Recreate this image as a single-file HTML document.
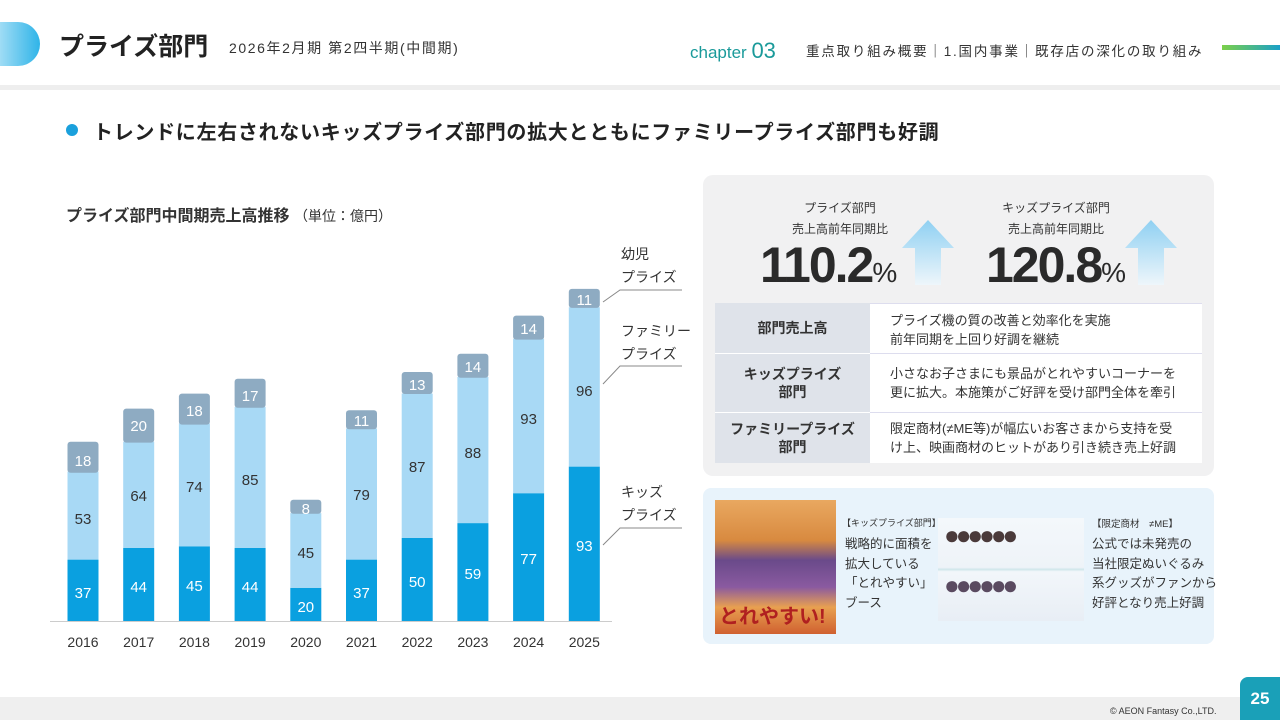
<!DOCTYPE html>
<html><head><meta charset="utf-8"><style>
*{margin:0;padding:0;box-sizing:border-box}
body{width:1280px;height:720px;position:relative;background:#fff;font-family:"Liberation Sans","Noto Sans CJK JP",sans-serif;color:#333;overflow:hidden}
.a{position:absolute;white-space:nowrap}
</style></head><body>
<div class="a" style="left:0;top:22px;width:40px;height:44px;border-radius:0 22px 22px 0;background:linear-gradient(90deg,#9fdcf5,#2fb4e8)"></div>
<div class="a" style="left:59px;top:27px;font-size:25px;font-weight:bold;color:#222">プライズ部門</div>
<div class="a" style="left:229px;top:38px;font-size:14px;color:#333;letter-spacing:1.6px">2026年2月期 第2四半期(中間期)</div>
<div class="a" style="left:690px;top:38px;font-size:17px;color:#1a9a9a">chapter <span style="font-size:22px">03</span></div>
<div class="a" style="left:806px;top:40px;font-size:13.5px;color:#333;letter-spacing:1.8px">重点取り組み概要｜1.国内事業｜既存店の深化の取り組み</div>
<div class="a" style="left:1222px;top:45px;width:58px;height:5px;background:linear-gradient(90deg,#7cd04a,#1aa0c8)"></div>
<div class="a" style="left:0;top:85px;width:1280px;height:5px;background:#eeeeee"></div>
<div class="a" style="left:66px;top:124px;width:12px;height:12px;border-radius:50%;background:#1aa0dc"></div>
<div class="a" style="left:93px;top:116px;font-size:20px;font-weight:bold;color:#222;letter-spacing:0.7px">トレンドに左右されないキッズプライズ部門の拡大とともにファミリープライズ部門も好調</div>
<div class="a" style="left:66px;top:202px;font-size:16px;font-weight:bold;color:#333">プライズ部門中間期売上高推移 <span style="font-size:14px;font-weight:normal">（単位：億円）</span></div>

<svg class="a" style="left:0;top:0" width="700" height="660" font-family="Liberation Sans, sans-serif">
<g fill="#0aa0e0">
<rect x="67.5" y="559.6" width="31" height="61.4"/><rect x="123.2" y="548" width="31" height="73"/><rect x="178.9" y="546.3" width="31" height="74.7"/><rect x="234.6" y="548" width="31" height="73"/><rect x="290.3" y="587.8" width="31" height="33.2"/><rect x="346" y="559.6" width="31" height="61.4"/><rect x="401.7" y="538" width="31" height="83"/><rect x="457.4" y="523.1" width="31" height="97.9"/><rect x="513.1" y="493.2" width="31" height="127.8"/><rect x="568.8" y="466.6" width="31" height="154.4"/></g>
<g fill="#a8d9f5">
<rect x="67.5" y="471.6" width="31" height="88"/><rect x="123.2" y="441.8" width="31" height="106.2"/><rect x="178.9" y="423.5" width="31" height="122.8"/><rect x="234.6" y="406.9" width="31" height="141.1"/><rect x="290.3" y="513.1" width="31" height="74.7"/><rect x="346" y="428.5" width="31" height="131.1"/><rect x="401.7" y="393.6" width="31" height="144.4"/><rect x="457.4" y="377" width="31" height="146.1"/><rect x="513.1" y="338.8" width="31" height="154.4"/><rect x="568.8" y="307.2" width="31" height="159.4"/></g>
<g fill="#8eabc2">
<rect x="67.5" y="441.7" width="31" height="31" rx="3"/><rect x="123.2" y="408.6" width="31" height="34" rx="3"/><rect x="178.9" y="393.6" width="31" height="31" rx="3"/><rect x="234.6" y="378.7" width="31" height="29" rx="3"/><rect x="290.3" y="499.8" width="31" height="14" rx="3"/><rect x="346" y="410.2" width="31" height="19" rx="3"/><rect x="401.7" y="372" width="31" height="22" rx="3"/><rect x="457.4" y="353.8" width="31" height="24" rx="3"/><rect x="513.1" y="315.6" width="31" height="24" rx="3"/><rect x="568.8" y="288.9" width="31" height="19" rx="3"/></g>
<g font-size="15" text-anchor="middle" fill="#fff">
<text x="83" y="598">37</text><text x="138.7" y="592">44</text><text x="194.4" y="591">45</text><text x="250.1" y="592">44</text><text x="305.8" y="612">20</text><text x="361.5" y="598">37</text><text x="417.2" y="587">50</text><text x="472.9" y="579">59</text><text x="528.6" y="564">77</text><text x="584.3" y="551">93</text>
<text x="83" y="466">18</text><text x="138.7" y="431">20</text><text x="194.4" y="416">18</text><text x="250.1" y="401">17</text><text x="305.8" y="514">8</text><text x="361.5" y="426">11</text><text x="417.2" y="390">13</text><text x="472.9" y="372">14</text><text x="528.6" y="334">14</text><text x="584.3" y="305">11</text></g>
<g font-size="15" text-anchor="middle" fill="#333">
<text x="83" y="524">53</text><text x="138.7" y="501">64</text><text x="194.4" y="492">74</text><text x="250.1" y="485">85</text><text x="305.8" y="558">45</text><text x="361.5" y="500">79</text><text x="417.2" y="472">87</text><text x="472.9" y="458">88</text><text x="528.6" y="424">93</text><text x="584.3" y="396">96</text></g>
<line x1="50" y1="621.5" x2="612" y2="621.5" stroke="#ccc"/>
<g font-size="14" text-anchor="middle" fill="#333">
<text x="83" y="647">2016</text><text x="138.7" y="647">2017</text><text x="194.4" y="647">2018</text><text x="250.1" y="647">2019</text><text x="305.8" y="647">2020</text><text x="361.5" y="647">2021</text><text x="417.2" y="647">2022</text><text x="472.9" y="647">2023</text><text x="528.6" y="647">2024</text><text x="584.3" y="647">2025</text></g>
<g stroke="#888" fill="none"><path d="M603 302 L620 290 H682"/><path d="M603 384 L620 366 H682"/><path d="M603 545 L620 528 H682"/></g>
<g font-size="14" fill="#333" font-family="Liberation Sans, Noto Sans CJK JP, sans-serif">
<text x="621" y="259">幼児</text><text x="621" y="282">プライズ</text>
<text x="621" y="336">ファミリー</text><text x="621" y="359">プライズ</text>
<text x="621" y="497">キッズ</text><text x="621" y="520">プライズ</text></g>
</svg>

<div class="a" style="left:703px;top:175px;width:511px;height:301px;border-radius:10px;background:#f1f1f2"></div>
<div class="a" style="left:785px;top:198px;width:110px;text-align:center;font-size:12px;line-height:21px;color:#333">プライズ部門<br>売上高前年同期比</div>
<div class="a" style="left:986px;top:198px;width:140px;text-align:center;font-size:12px;line-height:21px;color:#333">キッズプライズ部門<br>売上高前年同期比</div>
<div class="a" style="left:760px;top:236px;font-size:50px;font-weight:bold;letter-spacing:-2px;color:#2a2a2a">110.2<span style="font-size:28px;font-weight:normal">%</span></div>
<div class="a" style="left:986px;top:236px;font-size:50px;font-weight:bold;letter-spacing:-2px;color:#2a2a2a">120.8<span style="font-size:28px;font-weight:normal">%</span></div>
<svg class="a" style="left:902px;top:220px" width="52" height="65"><defs><linearGradient id="g" x1="0" y1="0" x2="0" y2="1"><stop offset="0" stop-color="#8fd0f2"/><stop offset="1" stop-color="#eef6fb"/></linearGradient></defs><path d="M26 0 L52 28 H39 V65 H13 V28 H0Z" fill="url(#g)"/></svg>
<svg class="a" style="left:1125px;top:220px" width="52" height="65"><path d="M26 0 L52 28 H39 V65 H13 V28 H0Z" fill="url(#g)"/></svg>
<div class="a" style="left:715px;top:303px;width:487px;height:160px;background:#fff;border-top:1px solid #dde"></div>
<div class="a" style="left:715px;top:303px;width:155px;height:50px;background:#dfe3ea;font-size:14px;font-weight:bold;display:flex;align-items:center;justify-content:center">部門売上高</div>
<div class="a" style="left:715px;top:354px;width:155px;height:58px;background:#dfe3ea;font-size:14px;font-weight:bold;display:flex;align-items:center;justify-content:center;text-align:center;line-height:18px">キッズプライズ<br>部門</div>
<div class="a" style="left:715px;top:413px;width:155px;height:50px;background:#dfe3ea;font-size:14px;font-weight:bold;display:flex;align-items:center;justify-content:center;text-align:center;line-height:18px">ファミリープライズ<br>部門</div>
<div class="a" style="left:870px;top:353px;width:332px;height:1px;background:#dde"></div>
<div class="a" style="left:870px;top:412px;width:332px;height:1px;background:#dde"></div>
<div class="a" style="left:890px;top:311px;font-size:13px;line-height:19px;color:#333">プライズ機の質の改善と効率化を実施<br>前年同期を上回り好調を継続</div>
<div class="a" style="left:890px;top:364px;font-size:13px;line-height:19px;color:#333">小さなお子さまにも景品がとれやすいコーナーを<br>更に拡大。本施策がご好評を受け部門全体を牽引</div>
<div class="a" style="left:890px;top:419px;font-size:13px;line-height:19px;color:#333">限定商材(≠ME等)が幅広いお客さまから支持を受<br>け上、映画商材のヒットがあり引き続き売上好調</div>

<div class="a" style="left:703px;top:488px;width:511px;height:156px;border-radius:8px;background:#e8f3fb"></div>
<div class="a" style="left:715px;top:500px;width:121px;height:134px;background:linear-gradient(180deg,#e9a860 0%,#d88a40 30%,#6a4a8a 45%,#8a5aa0 65%,#e8a050 80%,#d06030 100%)"></div>
<div class="a" style="left:719px;top:600px;font-size:20px;font-weight:bold;color:#b02020">とれやすい!</div>
<div class="a" style="left:842px;top:516px;font-size:9px;color:#333">【キッズプライズ部門】</div>
<div class="a" style="left:845px;top:535px;font-size:12.5px;line-height:19.5px;color:#333">戦略的に面積を<br>拡大している<br>「とれやすい」<br>ブース</div>
<div class="a" style="left:938px;top:518px;width:146px;height:103px;background:linear-gradient(180deg,#f4f8fb 0%,#eef3f8 48%,#cfe6ea 50%,#f2f6fa 52%,#e8eef5 100%)"></div>
<div class="a" style="left:944px;top:520px;font-size:26px;letter-spacing:-4px;color:#4a3a3a">●●●●●●</div>
<div class="a" style="left:944px;top:570px;font-size:26px;letter-spacing:-4px;color:#5a4a60">●●●●●●</div>
<div class="a" style="left:1092px;top:516px;font-size:9.5px;color:#333">【限定商材　≠ME】</div>
<div class="a" style="left:1092px;top:535px;font-size:12.5px;line-height:19.5px;color:#333">公式では未発売の<br>当社限定ぬいぐるみ<br>系グッズがファンから<br>好評となり売上好調</div>

<div class="a" style="left:0;top:697px;width:1280px;height:23px;background:#efefef"></div>
<div class="a" style="left:1110px;top:706px;font-size:9px;color:#333">© AEON Fantasy Co.,LTD.</div>
<div class="a" style="left:1240px;top:677px;width:40px;height:43px;border-radius:8px 0 0 0;background:#1aa0b8;color:#fff;font-size:17px;font-weight:bold;text-align:center;line-height:43px">25</div>
</body></html>
